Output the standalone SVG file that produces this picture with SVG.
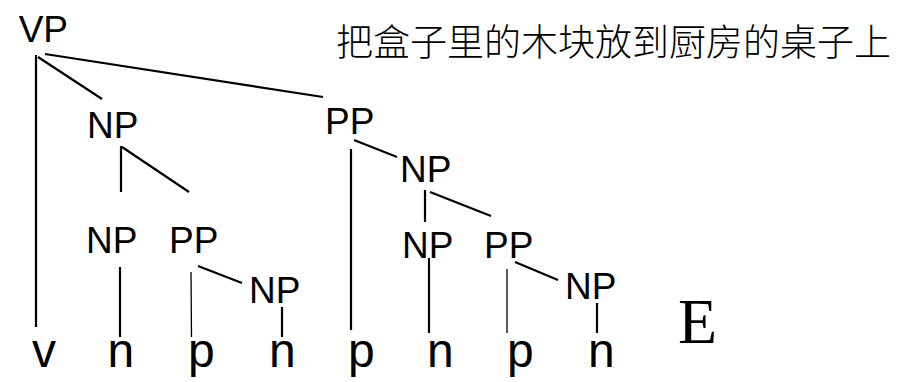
<svg xmlns="http://www.w3.org/2000/svg" width="911" height="382" viewBox="0 0 911 382">
<style>
.lbl{font-family:"Liberation Sans",Arial,sans-serif;font-size:37px;fill:#000}
.leaf{font-family:"Liberation Sans",Arial,sans-serif;font-size:48px;fill:#000}
.zh{font-family:"Noto Sans CJK SC",sans-serif;font-size:37px;font-weight:300;fill:#000}
.e{font-family:"Liberation Serif","Times New Roman",serif;font-size:64px;fill:#000}
.c{stroke:#000;stroke-width:2.2;fill:none}
.t{stroke:#000;stroke-width:1.3;fill:none}
</style>
<rect width="911" height="382" fill="#fff"/>
<g id="connectors">
<line class="c" x1="36" y1="55" x2="36" y2="327"/>
<line class="c" x1="38" y1="57" x2="102" y2="99"/>
<line class="c" x1="45" y1="54" x2="323" y2="97"/>
<line class="c" x1="121" y1="146" x2="121" y2="192"/>
<line class="c" x1="122" y1="147" x2="189" y2="192"/>
<line class="c" x1="351" y1="149" x2="351" y2="330"/>
<line class="c" x1="354" y1="140" x2="397" y2="157"/>
<line class="c" x1="120" y1="267" x2="120" y2="337"/>
<line class="t" x1="191" y1="272" x2="191.5" y2="337"/>
<line class="c" x1="198" y1="266" x2="242" y2="283"/>
<line class="c" x1="282" y1="307" x2="282" y2="337"/>
<line class="c" x1="425" y1="190" x2="425" y2="222"/>
<line class="c" x1="430" y1="192" x2="491" y2="216"/>
<line class="c" x1="429" y1="258" x2="429" y2="333"/>
<line class="t" x1="507" y1="269" x2="507" y2="333"/>
<line class="c" x1="515" y1="262" x2="558" y2="280"/>
<line class="c" x1="597" y1="303" x2="597" y2="333"/>
</g>
<g id="vp"><text class="lbl" x="18.7" y="42">VP</text></g>
<g id="np1"><text class="lbl" x="87" y="138">NP</text></g>
<g id="pp1"><text class="lbl" x="325" y="134">PP</text></g>
<g id="np2"><text class="lbl" x="400" y="182">NP</text></g>
<g id="np3"><text class="lbl" x="86" y="253">NP</text></g>
<g id="pp2"><text class="lbl" x="169" y="253">PP</text></g>
<g id="np4"><text class="lbl" x="249" y="303">NP</text></g>
<g id="np5"><text class="lbl" x="402" y="258">NP</text></g>
<g id="pp3"><text class="lbl" x="484" y="258">PP</text></g>
<g id="np6"><text class="lbl" x="565" y="299">NP</text></g>
<g id="leaf-v"><text class="leaf" x="32" y="367">v</text></g>
<g id="leaf-n1"><text class="leaf" x="107.5" y="367">n</text></g>
<g id="leaf-p1"><text class="leaf" x="188" y="367">p</text></g>
<g id="leaf-n2"><text class="leaf" x="269" y="367">n</text></g>
<g id="leaf-p2"><text class="leaf" x="348" y="367">p</text></g>
<g id="leaf-n3"><text class="leaf" x="427" y="367">n</text></g>
<g id="leaf-p3"><text class="leaf" x="507" y="367">p</text></g>
<g id="leaf-n4"><text class="leaf" x="588" y="367">n</text></g>
<g id="sentence"><text class="zh" x="336" y="56">把盒子里的木块放到厨房的桌子上</text></g>
<g id="e-label"><text class="e" x="678" y="343">E</text></g>
</svg>
